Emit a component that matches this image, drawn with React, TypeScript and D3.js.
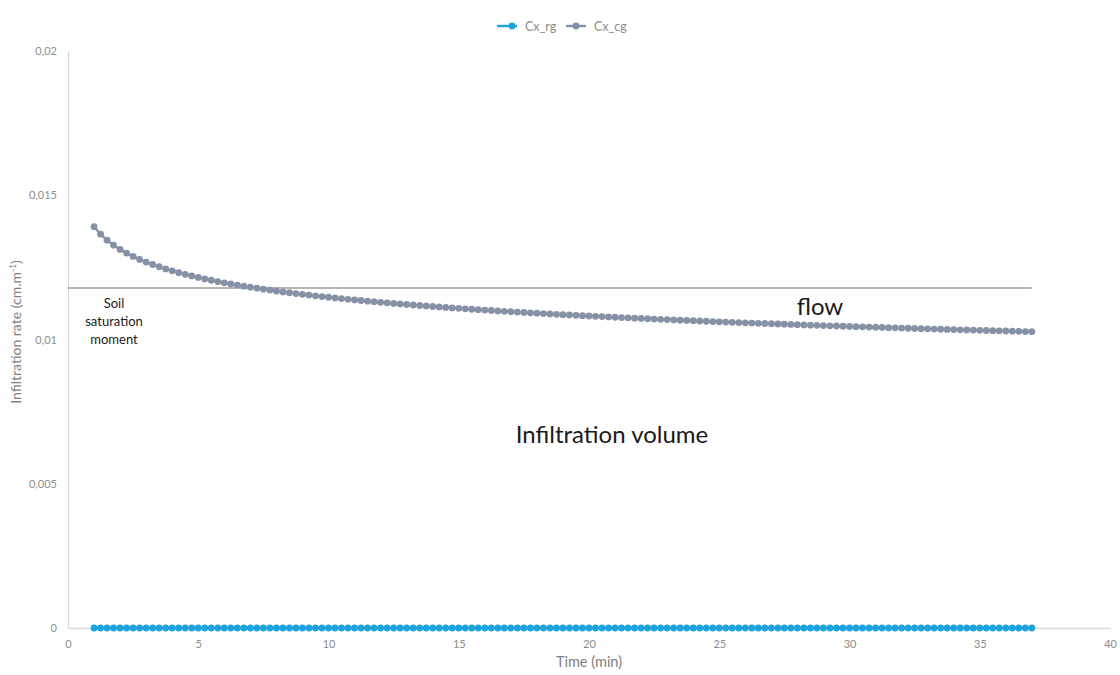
import React, { useEffect, useRef } from "react";
import * as d3 from "d3";

const time = [
  1, 1.25, 1.5, 1.75, 2, 2.25, 2.5, 2.75, 3, 3.25, 3.5, 3.75, 4, 4.25, 4.5, 4.75,
  5, 5.25, 5.5, 5.75, 6, 6.25, 6.5, 6.75, 7, 7.25, 7.5, 7.75, 8, 8.25, 8.5, 8.75,
  9, 9.25, 9.5, 9.75, 10, 10.25, 10.5, 10.75, 11, 11.25, 11.5, 11.75, 12, 12.25, 12.5, 12.75,
  13, 13.25, 13.5, 13.75, 14, 14.25, 14.5, 14.75, 15, 15.25, 15.5, 15.75, 16, 16.25, 16.5, 16.75,
  17, 17.25, 17.5, 17.75, 18, 18.25, 18.5, 18.75, 19, 19.25, 19.5, 19.75, 20, 20.25, 20.5, 20.75,
  21, 21.25, 21.5, 21.75, 22, 22.25, 22.5, 22.75, 23, 23.25, 23.5, 23.75, 24, 24.25, 24.5, 24.75,
  25, 25.25, 25.5, 25.75, 26, 26.25, 26.5, 26.75, 27, 27.25, 27.5, 27.75, 28, 28.25, 28.5, 28.75,
  29, 29.25, 29.5, 29.75, 30, 30.25, 30.5, 30.75, 31, 31.25, 31.5, 31.75, 32, 32.25, 32.5, 32.75,
  33, 33.25, 33.5, 33.75, 34, 34.25, 34.5, 34.75, 35, 35.25, 35.5, 35.75, 36, 36.25, 36.5, 36.75, 37,
];

const cxCg = [
  0.01391, 0.013652, 0.013444, 0.013271, 0.013123, 0.012994, 0.01288, 0.012777,
  0.012684, 0.012599, 0.012521, 0.012448, 0.012381, 0.012318, 0.012259, 0.012204,
  0.012151, 0.012101, 0.012054, 0.012009, 0.011966, 0.011926, 0.011886, 0.011849,
  0.011813, 0.011778, 0.011744, 0.011712, 0.011681, 0.01165, 0.011621, 0.011593,
  0.011566, 0.011539, 0.011513, 0.011488, 0.011464, 0.01144, 0.011417, 0.011394,
  0.011372, 0.011351, 0.01133, 0.01131, 0.01129, 0.01127, 0.011251, 0.011232,
  0.011214, 0.011196, 0.011178, 0.011161, 0.011144, 0.011128, 0.011111, 0.011096,
  0.01108, 0.011064, 0.011049, 0.011034, 0.01102, 0.011005, 0.010991, 0.010977,
  0.010964, 0.01095, 0.010937, 0.010924, 0.010911, 0.010899, 0.010886, 0.010874,
  0.010862, 0.01085, 0.010838, 0.010827, 0.010815, 0.010804, 0.010793, 0.010782,
  0.010771, 0.01076, 0.01075, 0.010739, 0.010729, 0.010719, 0.010709, 0.010699,
  0.010689, 0.010679, 0.01067, 0.01066, 0.010651, 0.010641, 0.010632, 0.010623,
  0.010614, 0.010605, 0.010597, 0.010588, 0.010579, 0.010571, 0.010562, 0.010554,
  0.010546, 0.010538, 0.01053, 0.010522, 0.010514, 0.010506, 0.010498, 0.01049,
  0.010483, 0.010475, 0.010468, 0.01046, 0.010453, 0.010446, 0.010438, 0.010431,
  0.010424, 0.010417, 0.01041, 0.010403, 0.010396, 0.01039, 0.010383, 0.010376,
  0.01037, 0.010363, 0.010356, 0.01035, 0.010344, 0.010337, 0.010331, 0.010325,
  0.010318, 0.010312, 0.010306, 0.0103, 0.010294, 0.010288, 0.010282, 0.010276, 0.01027,
];

const cxRg = [
  0, 0, 0, 0, 0, 0, 0, 0, 0, 0, 0, 0, 0, 0, 0, 0, 0, 0, 0, 0, 0, 0, 0, 0, 0, 0, 0, 0, 0, 0,
  0, 0, 0, 0, 0, 0, 0, 0, 0, 0, 0, 0, 0, 0, 0, 0, 0, 0, 0, 0, 0, 0, 0, 0, 0, 0, 0, 0, 0, 0,
  0, 0, 0, 0, 0, 0, 0, 0, 0, 0, 0, 0, 0, 0, 0, 0, 0, 0, 0, 0, 0, 0, 0, 0, 0, 0, 0, 0, 0, 0,
  0, 0, 0, 0, 0, 0, 0, 0, 0, 0, 0, 0, 0, 0, 0, 0, 0, 0, 0, 0, 0, 0, 0, 0, 0, 0, 0, 0, 0, 0,
  0, 0, 0, 0, 0, 0, 0, 0, 0, 0, 0, 0, 0, 0, 0, 0, 0, 0, 0, 0, 0, 0, 0, 0, 0,
];

const xTicks = [0, 5, 10, 15, 20, 25, 30, 35, 40];
const yTicks = [0, 0.005, 0.01, 0.015, 0.02];
const seriesNames = ["Cx_rg", "Cx_cg"];
const saturationLevel = 0.011785;
const saturationEnd = 37;

const BLUE = "#1ca3de";
const GRAY = "#8791a6";
const FONT = "Lato, 'Open Sans', sans-serif";

export default function App() {
  const ref = useRef<SVGSVGElement>(null);

  useEffect(() => {
    const svg = d3.select(ref.current);
    svg.selectAll("*").remove();

    const x = d3.scaleLinear().domain([0, 40]).range([68, 1110]);
    const y = d3.scaleLinear().domain([0, 0.02]).range([628, 51]);
    const fmt = (v: number) => d3.format("~g")(v).replace(".", ",");

    // axes
    const yAxis = svg
      .append("g")
      .attr("transform", `translate(${x(0)},0)`)
      .call(d3.axisLeft(y).tickValues(yTicks).tickSize(0).tickPadding(11).tickFormat(fmt as any));
    yAxis.select(".domain").attr("stroke", "#d9d9d9").attr("stroke-width", 1.3);
    yAxis.selectAll("text").attr("fill", "#8c8c8c").style("font-family", FONT).style("font-size", "11px");

    const xAxis = svg
      .append("g")
      .attr("transform", `translate(0,${y(0)})`)
      .call(d3.axisBottom(x).tickValues(xTicks).tickSize(0).tickPadding(12).tickFormat(d3.format("d") as any));
    xAxis.select(".domain").attr("stroke", "#d9d9d9").attr("stroke-width", 1.3);
    xAxis.selectAll("text").attr("fill", "#8c8c8c").style("font-family", FONT).style("font-size", "11px");

    // axis titles
    const yt = svg
      .append("text")
      .attr("transform", `translate(21,332) rotate(-90)`)
      .attr("text-anchor", "middle")
      .attr("fill", "#7f7f7f")
      .style("font-family", FONT)
      .style("font-size", "14px");
    yt.append("tspan").text("Infiltration rate  (cm.m");
    yt.append("tspan").attr("dy", -5).style("font-size", "8.5px").text("-1");
    yt.append("tspan").attr("dy", 5).text(")");

    svg
      .append("text")
      .attr("x", x(20))
      .attr("y", 667)
      .attr("text-anchor", "middle")
      .attr("fill", "#7f7f7f")
      .style("font-family", FONT)
      .style("font-size", "14.5px")
      .text("Time (min)");

    // saturation line
    svg
      .append("line")
      .attr("x1", x(0))
      .attr("x2", x(saturationEnd))
      .attr("y1", y(saturationLevel))
      .attr("y2", y(saturationLevel))
      .attr("stroke", "#6e6e6e")
      .attr("stroke-width", 1.2);

    const line = d3
      .line<number>()
      .x((_, i) => x(time[i]))
      .y((d) => y(d));

    const drawSeries = (vals: number[], color: string) => {
      svg
        .append("path")
        .datum(vals)
        .attr("d", line)
        .attr("fill", "none")
        .attr("stroke", color)
        .attr("stroke-width", 2.4);
      svg
        .append("g")
        .selectAll("circle")
        .data(vals)
        .join("circle")
        .attr("cx", (_, i) => x(time[i]))
        .attr("cy", (d) => y(d))
        .attr("r", 3.4)
        .attr("fill", color);
    };
    drawSeries(cxRg, BLUE);
    drawSeries(cxCg, GRAY);

    // annotations
    const soil = svg
      .append("text")
      .attr("text-anchor", "middle")
      .attr("fill", "#1a1a1a")
      .style("font-family", FONT)
      .style("font-size", "13px");
    ["Soil", "saturation", "moment"].forEach((t, i) => {
      soil.append("tspan").attr("x", 114).attr("y", 308 + i * 18).text(t);
    });

    svg
      .append("text")
      .attr("x", 820)
      .attr("y", 315)
      .attr("text-anchor", "middle")
      .attr("fill", "#1a1a1a")
      .style("font-family", FONT)
      .style("font-size", "24px")
      .text("flow");

    svg
      .append("text")
      .attr("x", 612)
      .attr("y", 443)
      .attr("text-anchor", "middle")
      .attr("fill", "#1a1a1a")
      .style("font-family", FONT)
      .style("font-size", "24px")
      .text("Infiltration volume");

    // legend
    const legendItems = [
      { name: seriesNames[0], color: BLUE, x0: 497, dot: 512 },
      { name: seriesNames[1], color: GRAY, x0: 566, dot: 576 },
    ];
    legendItems.forEach((it) => {
      const g = svg.append("g");
      g.append("line")
        .attr("x1", it.x0)
        .attr("x2", it.x0 + 20)
        .attr("y1", 26)
        .attr("y2", 26)
        .attr("stroke", it.color)
        .attr("stroke-width", 2.4);
      g.append("circle").attr("cx", it.dot).attr("cy", 26).attr("r", 3.4).attr("fill", it.color);
      g.append("text")
        .attr("x", it.x0 + 28)
        .attr("y", 30.5)
        .attr("fill", "#8c8c8c")
        .style("font-family", FONT)
        .style("font-size", "12.5px")
        .text(it.name);
    });
  }, []);

  return (
    <svg
      ref={ref}
      width={1120}
      height={675}
      style={{ position: "absolute", left: 0, top: 0, background: "#fff" }}
    />
  );
}
